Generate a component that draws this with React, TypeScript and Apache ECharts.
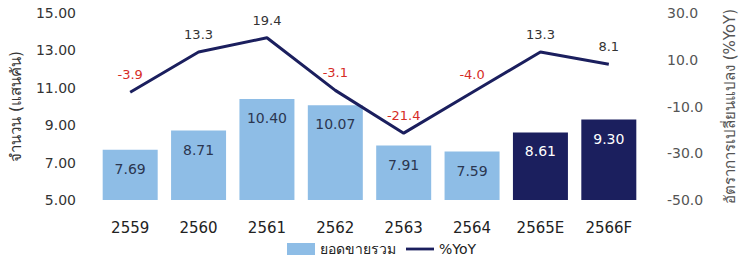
import React, { useEffect, useRef } from "react";
import * as echarts from "echarts";

const categories = ["2559", "2560", "2561", "2562", "2563", "2564", "2565E", "2566F"];
const salesValues = [7.69, 8.71, 10.4, 10.07, 7.91, 7.59, 8.61, 9.3];
const yoyValues = [-3.9, 13.3, 19.4, -3.1, -21.4, -4.0, 13.3, 8.1];
const forecastFlags = [false, false, false, false, false, false, true, true];

const LIGHT = "#8ebde6";
const DARK = "#1b1f5e";
const FONT = "DejaVu Sans, Noto Sans, sans-serif";

export default function App() {
  const ref = useRef<HTMLDivElement>(null);
  useEffect(() => {
    if (!ref.current) return;
    const chart = echarts.init(ref.current, null, { renderer: "svg" });
    chart.setOption({
      animation: false,
      textStyle: { fontFamily: FONT },
      grid: { left: 95, right: 87, top: 13, bottom: 59 },
      legend: {
        left: 282,
        top: 237,
        itemWidth: 28,
        itemHeight: 12,
        itemGap: 10,
        textStyle: { fontSize: 14, color: "#222", fontFamily: FONT },
        data: [
          { name: "ยอดขายรวม", icon: "rect", itemStyle: { color: LIGHT } },
          { name: "%YoY", icon: "path://M0,0H30V3H0Z", itemStyle: { color: DARK } },
        ],
      },
      xAxis: {
        type: "category",
        data: categories,
        axisLine: { show: false },
        axisTick: { show: false },
        axisLabel: { fontSize: 15, color: "#222", margin: 20, fontFamily: FONT },
      },
      yAxis: [
        {
          type: "value",
          min: 5,
          max: 15,
          interval: 2,
          splitLine: { show: false },
          axisLabel: {
            fontSize: 14,
            color: "#333",
            margin: 20,
            formatter: (v: number) => v.toFixed(2),
            fontFamily: FONT,
          },
          name: "จำนวน (แสนคัน)",
          nameLocation: "middle",
          nameRotate: 90,
          nameGap: 73,
          nameTextStyle: { fontSize: 15, color: "#333", fontFamily: FONT },
        },
        {
          type: "value",
          min: -50,
          max: 30,
          interval: 20,
          splitLine: { show: false },
          axisLabel: {
            fontSize: 14,
            color: "#555",
            margin: 24,
            formatter: (v: number) => v.toFixed(1),
            fontFamily: FONT,
          },
          name: "อัตราการเปลี่ยนแปลง (%YoY)",
          nameLocation: "middle",
          nameRotate: 90,
          nameGap: 79,
          nameTextStyle: { fontSize: 15, color: "#555", fontFamily: FONT },
        },
      ],
      series: [
        {
          name: "ยอดขายรวม",
          type: "bar",
          yAxisIndex: 0,
          barWidth: 55,
          itemStyle: { color: LIGHT },
          data: salesValues.map((v, i) => ({
            value: v,
            itemStyle: { color: forecastFlags[i] ? DARK : LIGHT },
            label: { color: forecastFlags[i] ? "#ffffff" : "#2b3650" },
          })),
          label: {
            show: true,
            position: "insideTop",
            distance: 12,
            fontSize: 14,
            fontFamily: FONT,
            formatter: (p: any) => Number(p.value).toFixed(2),
          },
        },
        {
          name: "%YoY",
          type: "line",
          yAxisIndex: 1,
          symbol: "none",
          z: 5,
          lineStyle: { color: DARK, width: 3 },
          itemStyle: { color: DARK },
          data: yoyValues,
        },
        {
          name: "%YoY labels",
          type: "scatter",
          yAxisIndex: 1,
          symbolSize: 0,
          z: 6,
          silent: true,
          itemStyle: { color: DARK },
          data: yoyValues.map((v) => ({
            value: v,
            label: { color: v < 0 ? "#d62c26" : "#333333" },
          })),
          label: {
            show: true,
            position: "top",
            distance: 11,
            fontSize: 13,
            fontFamily: FONT,
            opacity: 1,
            formatter: (p: any) => Number(p.value).toFixed(1),
          },
        },
      ],
    });
    return () => chart.dispose();
  }, []);
  return <div ref={ref} style={{ width: 745, height: 259, position: "absolute", left: 0, top: 0 }} />;
}
